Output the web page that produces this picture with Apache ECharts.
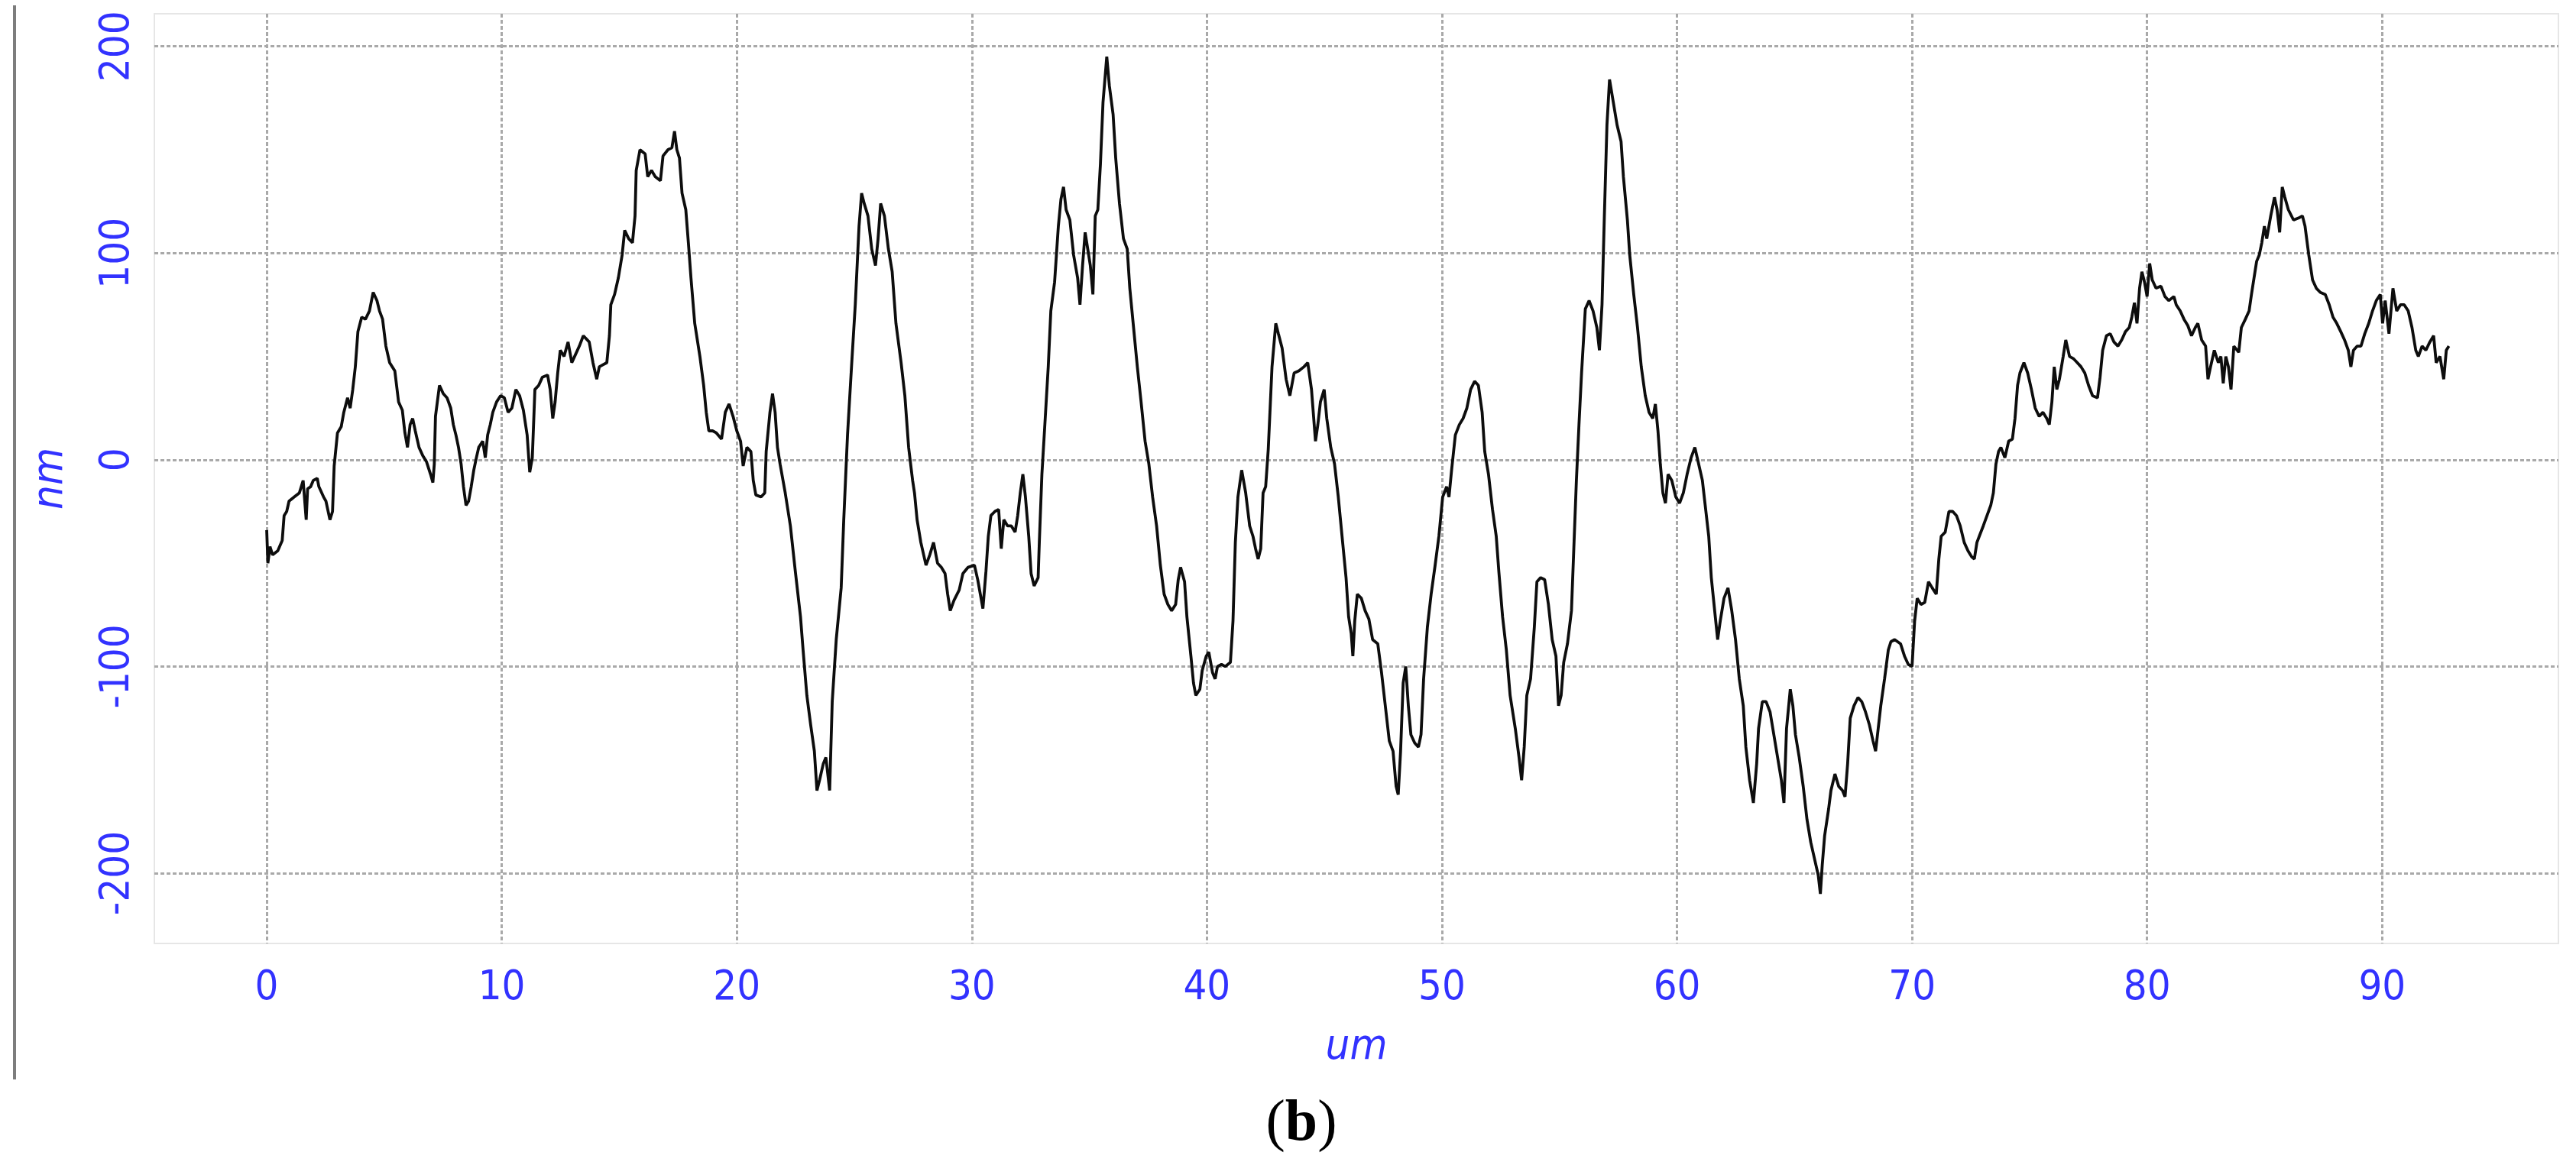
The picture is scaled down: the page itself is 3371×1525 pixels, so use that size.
<!DOCTYPE html>
<html>
<head>
<meta charset="utf-8">
<script src="https://cdn.jsdelivr.net/npm/echarts@6/dist/echarts.min.js"></script>
<style>
html,body{margin:0;padding:0;background:#fff;}
#c{width:3371px;height:1525px;}
</style>
</head>
<body>
<div id="c"></div>
<script>
// ---- data (profile: x in um, height in nm) ----
const profileX = [
0,0.05,0.14,0.25,0.47,0.66,0.74,0.85,0.95,1.17,1.39,1.55,1.68,1.74,1.87,1.98,2.15,2.22,2.42,2.52,2.69,2.80,2.87,3.01,3.17,3.28,3.44,3.55,3.66,3.77,3.88,4.04,4.20,4.37,4.53,4.69,4.80,4.93,5.07,5.23,5.45,5.61,5.77,5.88,5.99,6.10,6.21,6.32,6.48,6.64,6.80,6.97,7.07,7.13,7.18,7.35,7.51,7.67,7.83,7.94,8.05,8.16,8.27,8.37,8.48,8.59,8.70,8.81,8.92,9.02,9.19,9.30,9.40,9.51,9.62,9.78,9.95,10.11,10.27,10.43,10.60,10.76,10.92,11.08,11.19,11.30,11.41,11.57,11.73,11.95,12.06,12.17,12.27,12.38,12.49,12.65,12.82,12.98,13.14,13.30,13.47,
13.72,13.88,14.04,14.15,14.31,14.47,14.58,14.64,14.80,14.96,15.12,15.23,15.40,15.56,15.67,15.72,15.88,16.10,16.21,16.37,16.53,16.75,16.86,17.07,17.24,17.35,17.45,17.56,17.67,17.83,17.94,18.05,18.21,18.43,18.59,18.70,18.81,18.97,19.13,19.35,19.51,19.67,19.84,20.00,20.16,20.27,20.43,20.60,20.70,20.81,21.03,21.19,21.25,21.41,21.52,21.63,21.73,21.84,22.06,22.28,22.49,22.71,22.82,22.98,23.14,23.30,23.41,23.52,23.68,23.79,23.95,24.06,24.23,24.44,24.55,24.71,24.88,25.04,25.20,25.31,25.42,25.58,25.74,25.90,26.01,26.12,26.28,26.45,26.61,26.77,26.99,27.15,27.31,27.48,
27.56,27.67,27.83,28.05,28.21,28.37,28.54,28.70,28.86,28.97,29.08,29.24,29.46,29.62,29.84,30.11,30.25,30.36,30.47,30.60,30.70,30.81,30.98,31.14,31.25,31.36,31.52,31.68,31.84,31.95,32.06,32.17,32.28,32.42,32.52,32.65,32.82,32.87,32.98,33.09,33.25,33.36,33.52,33.68,33.79,33.90,34.01,34.17,34.33,34.50,34.60,34.71,34.82,34.93,35.04,35.15,35.25,35.36,35.47,35.58,35.74,35.85,36.01,36.12,36.28,36.45,36.61,36.72,36.88,37.04,37.20,37.37,37.53,37.69,37.86,38.02,38.18,38.34,38.50,38.67,38.78,38.88,39.05,39.15,39.32,39.43,39.53,39.70,39.80,39.97,40.08,40.24,40.35,40.45,40.62,40.78,41.00,41.11,41.21,41.32,41.48,41.65,41.82,
41.96,42.07,42.18,42.29,42.39,42.50,42.61,42.77,42.93,43.04,43.20,43.37,43.53,43.71,43.91,44.13,44.29,44.45,44.62,44.72,44.83,44.99,45.10,45.27,45.43,45.59,45.75,45.92,46.03,46.14,46.21,46.29,46.40,46.57,46.73,46.89,47.05,47.27,47.43,47.59,47.76,47.92,48.05,48.14,48.24,48.35,48.46,48.57,48.68,48.84,49.00,49.11,49.22,49.38,49.54,49.71,49.87,50.03,50.20,50.30,50.41,50.57,50.74,50.90,51.06,51.22,51.39,51.55,51.71,51.82,51.98,52.15,52.31,52.42,52.58,52.74,52.90,53.12,53.28,53.39,53.50,53.61,53.77,53.93,54.04,54.20,54.37,54.53,54.69,54.85,54.96,55.07,55.18,55.34,
55.51,55.61,55.72,55.83,55.94,56.10,56.26,56.43,56.59,56.70,56.81,56.91,57.02,57.13,57.29,57.45,57.62,57.72,57.89,57.99,58.16,58.32,58.48,58.65,58.81,58.97,59.08,59.19,59.29,59.40,59.51,59.62,59.78,59.95,60.11,60.27,60.43,60.60,60.76,60.92,61.08,61.19,61.35,61.46,61.63,61.73,61.84,62.00,62.17,62.33,62.49,62.65,62.82,62.93,63.09,63.25,63.39,63.47,63.63,63.79,63.96,64.12,64.28,64.44,64.55,64.66,64.82,64.93,65.04,65.20,65.37,65.53,65.69,65.85,66.01,66.10,66.18,66.28,66.45,66.55,66.72,66.88,67.04,67.15,67.26,67.37,67.53,67.70,67.86,68.02,68.18,68.34,68.45,68.56,68.67,68.83,68.99,69.10,69.26,
69.51,69.68,69.84,70.00,70.11,70.22,70.38,70.54,70.70,70.86,71.03,71.14,71.24,71.41,71.57,71.73,71.89,72.05,72.22,72.38,72.54,72.65,72.76,72.86,73.03,73.19,73.35,73.46,73.57,73.68,73.78,73.95,74.11,74.27,74.38,74.49,74.59,74.76,74.92,75.08,75.24,75.41,75.57,75.73,75.84,75.95,76.05,76.16,76.27,76.43,76.54,76.70,76.86,77.03,77.19,77.35,77.51,77.68,77.89,78.00,78.11,78.27,78.43,78.59,78.76,78.92,79.08,79.24,79.35,79.46,79.57,79.68,79.78,79.89,80.00,80.11,80.22,80.38,80.59,80.76,80.92,81.14,81.24,81.41,81.57,81.73,81.89,82.05,82.16,82.32,82.49,82.59,82.70,82.86,83.03,83.14,83.24,83.35,83.46,83.57,83.69,
83.90,84.01,84.18,84.34,84.44,84.55,84.66,84.77,84.88,84.99,85.09,85.26,85.42,85.53,85.64,85.75,85.86,86.01,86.23,86.45,86.61,86.72,86.88,87.04,87.20,87.37,87.58,87.75,87.91,88.07,88.24,88.40,88.56,88.67,88.78,88.94,89.10,89.26,89.43,89.59,89.75,89.92,90.02,90.13,90.29,90.46,90.62,90.78,90.94,91.11,91.27,91.43,91.54,91.70,91.86,92.03,92.19,92.30,92.46,92.62,92.73,92.84
];
const profileY = [
-34,-50,-42,-46,-44,-39,-27,-25,-20,-18,-16,-10,-29,-14,-13,-10,-9,-13,-18,-20,-29,-25,-3,13,16,23,30,25,34,45,62,69,68,72,81,77,72,68,55,47,43,28,24,13,6,17,20,14,6,2,-1,-7,-11,-2,21,36,32,30,25,17,12,6,-2,-13,-22,-20,-13,-5,1,6,9,1,12,17,23,28,31,30,23,25,34,31,24,12,-6,1,34,36,40,41,34,20,28,42,53,50,57,47,51,55,60,
57,47,39,45,46,47,60,75,80,88,99,111,107,105,118,140,150,148,137,140,137,135,147,150,151,159,150,146,129,121,105,88,66,50,36,23,14,14,13,10,23,27,21,14,9,-3,6,4,-10,-17,-18,-16,4,23,32,23,6,-2,-16,-32,-54,-76,-92,-114,-128,-141,-160,-155,-147,-144,-160,-117,-87,-62,-29,12,45,75,113,129,124,118,102,94,107,124,118,102,91,66,47,31,6,-10,
-16,-29,-40,-51,-46,-40,-50,-52,-55,-65,-73,-68,-63,-55,-52,-51,-58,-65,-72,-54,-37,-27,-25,-24,-43,-29,-32,-32,-35,-27,-16,-7,-18,-37,-55,-61,-57,-40,-7,14,45,72,86,113,126,132,121,116,99,88,75,94,110,102,94,80,118,121,143,173,195,181,167,146,124,107,102,83,64,45,28,9,-2,-18,-32,-51,-65,-70,-73,-70,-58,-52,-59,-76,-95,-108,-114,-111,-102,-95,-93,-103,-106,-100,-99,-100,-98,-78,-40,-18,-5,-16,-32,
-37,-43,-48,-43,-16,-13,5,45,66,61,54,39,31,42,43,45,47,34,9,17,28,34,20,6,-2,-18,-37,-57,-76,-84,-95,-78,-65,-67,-73,-77,-87,-89,-103,-119,-136,-141,-158,-162,-141,-108,-100,-119,-133,-137,-139,-133,-106,-81,-65,-51,-37,-18,-13,-18,-5,12,17,20,25,34,38,36,23,4,-7,-24,-37,-54,-76,-92,-114,-130,-144,-155,-139,-114,-106,-81,-59,-57,-58,-70,-87,-95,-119,-114,-98,-89,
-73,-43,-10,17,42,73,77,72,64,53,75,118,162,184,173,162,154,137,116,99,80,64,45,31,23,20,27,14,-2,-16,-21,-7,-10,-18,-21,-16,-7,1,6,-2,-10,-21,-37,-57,-76,-87,-78,-67,-62,-73,-87,-106,-119,-139,-155,-166,-147,-130,-117,-117,-122,-133,-144,-155,-166,-130,-111,-119,-133,-144,-158,-174,-185,-193,-201,-210,-196,-182,-169,-160,-152,-158,-160,-163,-147,-125,-119,-115,-117,-122,-128,-136,-141,-130,-119,-106,-92,-88,-87,
-89,-95,-99,-100,-78,-67,-70,-69,-59,-62,-65,-48,-37,-35,-25,-25,-27,-32,-40,-44,-47,-48,-40,-37,-32,-27,-22,-16,-2,4,6,1,9,10,20,36,42,47,42,34,25,21,23,20,17,28,45,34,39,50,58,50,49,47,45,42,36,31,30,40,53,60,61,57,55,58,62,64,69,76,66,83,91,86,79,95,87,83,84,79,77,79,75,72,68,65,60,64,66,58,55,39,45,53,47,50,37,50,45,34,55,
52,64,68,72,80,88,96,99,105,113,107,118,127,121,110,132,127,121,116,117,118,113,99,87,83,81,80,75,69,66,62,58,53,45,53,55,55,61,66,72,77,80,66,77,61,83,72,75,75,72,64,53,50,55,53,57,60,47,50,39,53,55
];
const xTickValues = [0,10,20,30,40,50,60,70,80,90];
const yTickValues = [-200,-100,0,100,200];
const xRange = [-4.78, 97.5];
const yRange = [-234, 215.8];
const xName = 'um';
const yName = 'nm';

const seriesData = profileX.map((x, i) => [x, profileY[i]]);

const BLUE = '#3232ff';
const FONT = "'DejaVu Sans Condensed', 'Liberation Sans', sans-serif";
const gridLine = { show: true, lineStyle: { color: '#a9a9a9', width: 3, type: [5, 3] } };

const chart = echarts.init(document.getElementById('c'), null, { renderer: 'canvas', width: 3371, height: 1525 });
chart.setOption({
  animation: false,
  backgroundColor: '#ffffff',
  grid: { left: 202, right: 23, top: 18, bottom: 290, show: true, borderColor: '#e6e6e6', borderWidth: 2, backgroundColor: '#ffffff' },
  xAxis: {
    type: 'value', min: xRange[0], max: xRange[1],
    name: xName, nameLocation: 'middle', nameGap: 108,
    nameTextStyle: { color: BLUE, fontSize: 56, fontStyle: 'italic', fontFamily: FONT },
    axisLine: { show: false, onZero: false },
    axisTick: { show: false, customValues: xTickValues },
    axisLabel: { customValues: xTickValues, color: BLUE, fontSize: 54, margin: 32, fontFamily: FONT },
    splitLine: gridLine
  },
  yAxis: {
    type: 'value', min: yRange[0], max: yRange[1],
    name: yName, nameLocation: 'middle', nameGap: 108, nameRotate: 90,
    nameTextStyle: { color: BLUE, fontSize: 56, fontStyle: 'italic', fontFamily: FONT },
    axisLine: { show: false, onZero: false },
    axisTick: { show: false, customValues: yTickValues },
    axisLabel: { customValues: yTickValues, color: BLUE, fontSize: 54, margin: 21, rotate: 90, fontFamily: FONT },
    splitLine: gridLine
  },
  series: [{
    type: 'line', data: seriesData, showSymbol: false, silent: true,
    lineStyle: { color: '#0d0d0d', width: 3.8 }
  }],
  graphic: [
    { type: 'line', shape: { x1: 19, y1: 7, x2: 19, y2: 1413 }, style: { stroke: '#7d7d7d', lineWidth: 4 } },
    { type: 'text', x: 1703, y: 1472,
      style: { text: '{p|(}{b|b}{p|)}', textAlign: 'center', textVerticalAlign: 'middle',
        rich: { p: { fontSize: 76, fontFamily: "'Liberation Serif', serif", fill: '#000' },
                b: { fontSize: 76, fontWeight: 'bold', fontFamily: "'Liberation Serif', serif", fill: '#000' } } } }
  ]
});
</script>
</body>
</html>
